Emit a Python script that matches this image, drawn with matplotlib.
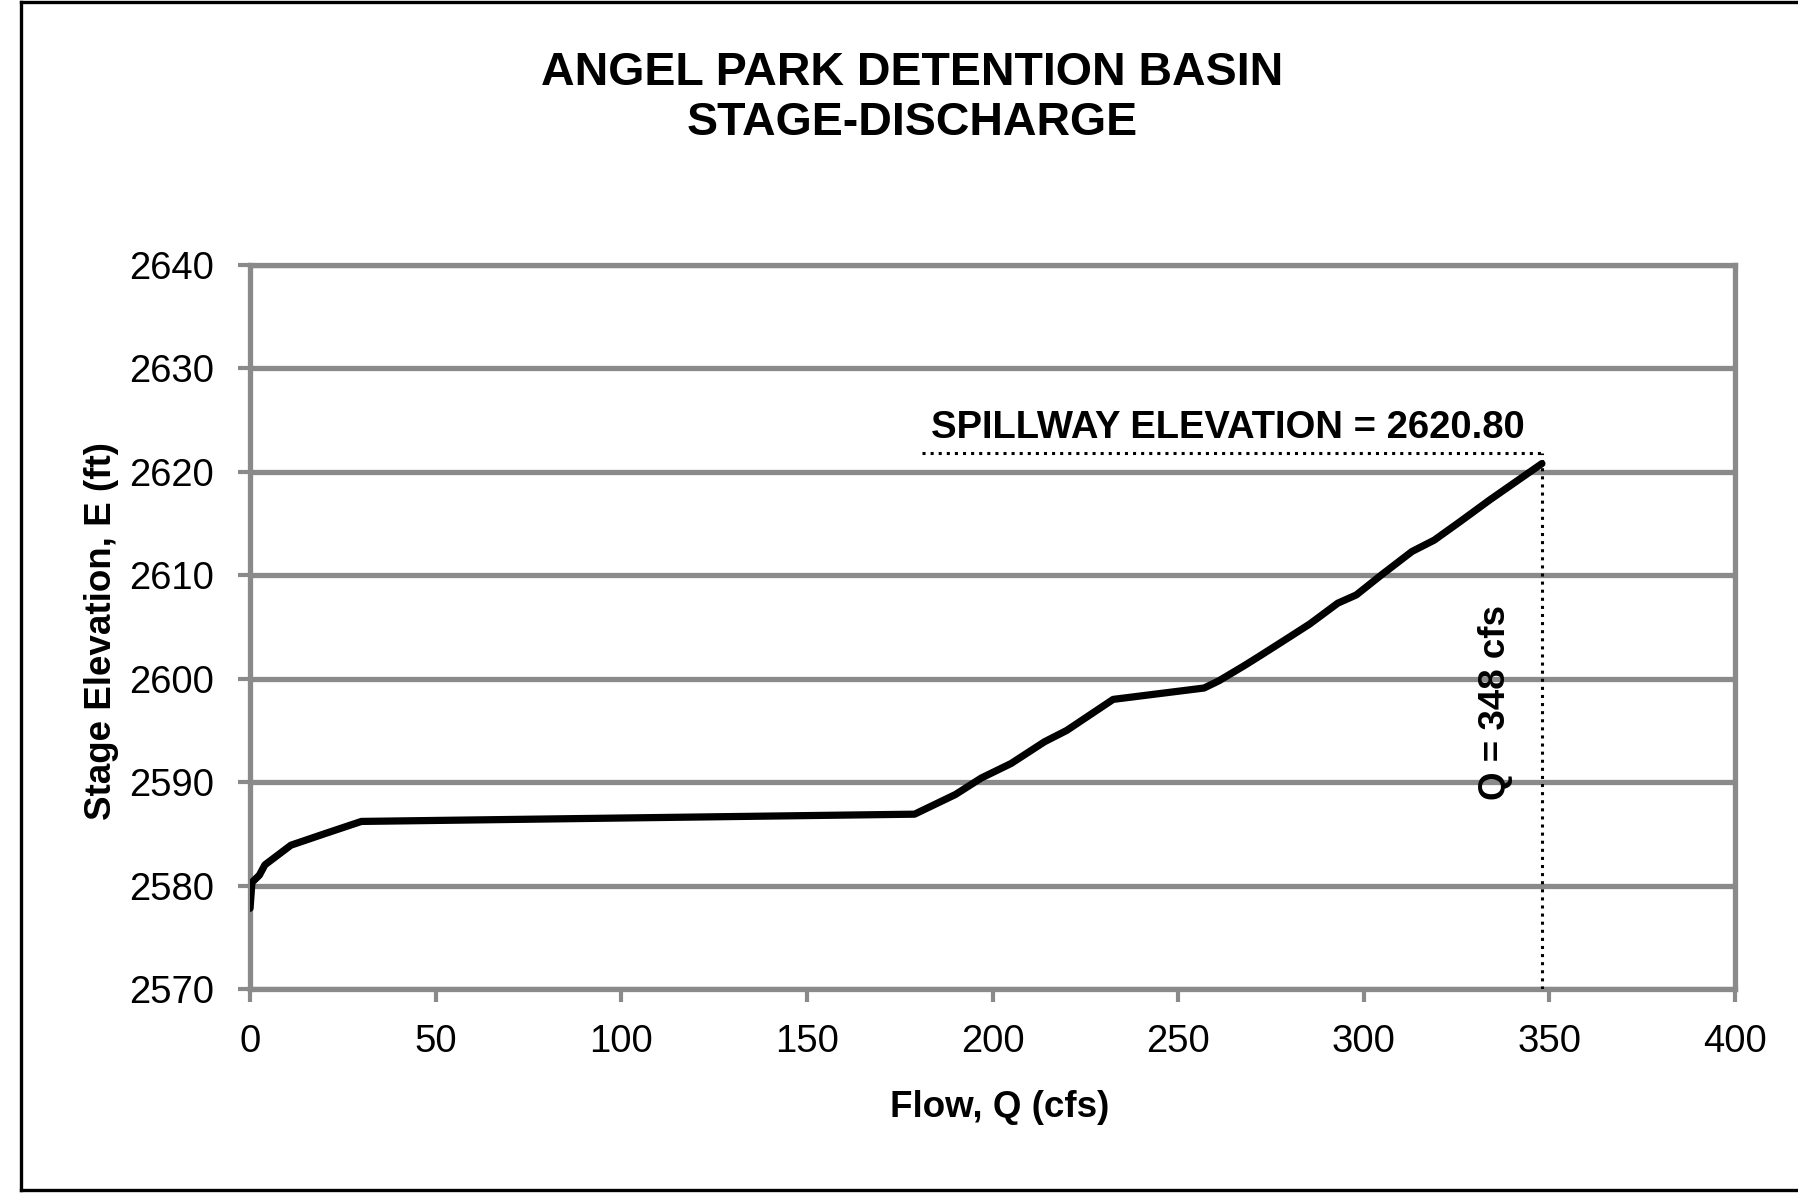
import matplotlib
matplotlib.use("Agg")
import matplotlib.pyplot as plt
from matplotlib.lines import Line2D

plt.rcParams['font.family'] = ['Liberation Sans', 'DejaVu Sans']

# stage-discharge curve
flow = [0, 0.5, 2.5, 4, 11, 20, 30, 179, 190, 197, 205, 214, 220, 232.5,
        257, 261, 268, 272, 279, 285.5, 293, 298, 305, 313, 319, 326, 334,
        342, 348]
elev = [2577.8, 2580.3, 2581.0, 2582.0, 2583.9, 2585.0, 2586.2, 2586.9,
        2588.8, 2590.4, 2591.8, 2593.9, 2595.0, 2598.0, 2599.1, 2599.8,
        2601.3, 2602.2, 2603.8, 2605.3, 2607.3, 2608.1, 2610.1, 2612.3,
        2613.4, 2615.2, 2617.3, 2619.3, 2620.8]

x_ticks = [0, 50, 100, 150, 200, 250, 300, 350, 400]
y_ticks = [2570, 2580, 2590, 2600, 2610, 2620, 2630, 2640]

# spillway marker lines
spill_q = 348
spill_line_elev = 2621.8
spill_line_start = 181

GRAY = '#8a8a8a'

fig = plt.figure(figsize=(17.99, 11.97), dpi=100)
ax = fig.add_axes([0.139, 0.1738, 0.8254, 0.6048])

ax.plot(flow, elev, color='black', lw=5.2, solid_joinstyle='round',
        solid_capstyle='round', zorder=3)

# dotted guide lines
ax.plot([spill_line_start, spill_q], [spill_line_elev, spill_line_elev],
        color='black', ls=':', lw=2.2, zorder=4)
ax.plot([spill_q, spill_q], [2570, spill_line_elev],
        color='black', ls=':', lw=2.2, zorder=4)

ax.text(263.5, 2624.2, 'SPILLWAY ELEVATION = 2620.80', fontsize=27.5,
        fontweight='bold', ha='center', va='center')
ax.text(335.4, 2597.7, 'Q = 348 cfs', fontsize=26.5, fontweight='bold',
        rotation=90, ha='center', va='center')

ax.set_xlim(0, 400)
ax.set_ylim(2570, 2640)
ax.set_xticks(x_ticks)
ax.set_yticks(y_ticks)
ax.yaxis.grid(True, color=GRAY, lw=3.8)
ax.set_axisbelow(True)
for s in ax.spines.values():
    s.set_color(GRAY)
    s.set_linewidth(3.8)
ax.tick_params(axis='both', direction='out', length=9, width=3, color=GRAY,
               labelsize=27.5, labelcolor='black')
ax.tick_params(axis='y', pad=17)
ax.tick_params(axis='x', pad=16)

ax.set_xlabel('Flow, Q (cfs)', fontsize=26.5, fontweight='bold', va='center')
ax.set_ylabel('Stage Elevation, E (ft)', fontsize=26.5, fontweight='bold',
              va='center')
ax.xaxis.set_label_coords(0.5048, -0.164)
ax.yaxis.set_label_coords(-0.1003, 0.4945)

fig.text(0.507, 0.918, 'ANGEL PARK DETENTION BASIN\nSTAGE-DISCHARGE',
         fontsize=33.5, fontweight='bold', ha='center', va='center',
         linespacing=1.17)

# outer frame of the page
bx0, by0, by1 = 21 / 1799, 1 - 1190 / 1197, 1 - 2 / 1197
for xs, ys in [([bx0, bx0], [by0, by1]), ([bx0, 1], [by1, by1]),
               ([bx0, 1], [by0, by0])]:
    fig.add_artist(Line2D(xs, ys, color='black', lw=2.4))

fig.savefig('out.png', dpi=100)
